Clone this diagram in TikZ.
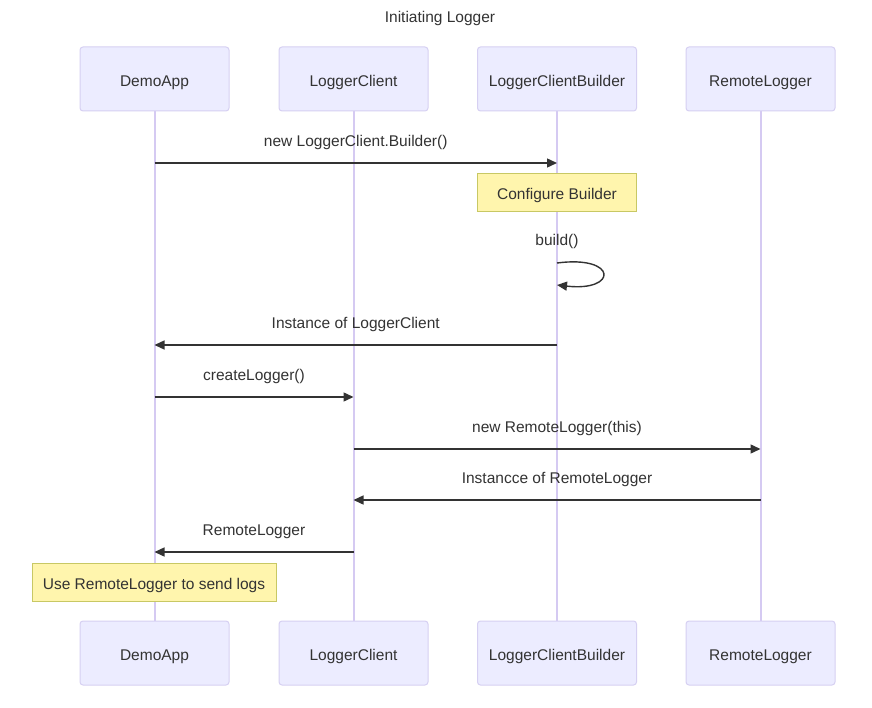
\documentclass[tikz,border=0pt]{standalone}
\usepackage{fontspec}
\setmainfont{Liberation Sans}
\usetikzlibrary{arrows.meta}
\definecolor{actorfill}{HTML}{ECECFF}
\definecolor{actorline}{HTML}{D6D0F2}
\definecolor{lifeline}{HTML}{D5CAF2}
\definecolor{notefill}{HTML}{FFF5AD}
\definecolor{noteline}{HTML}{C8C864}
\definecolor{ink}{HTML}{333333}
\tikzset{
  basefont/.style={font=\fontsize{15.5}{18}\selectfont},
  actor/.style={draw=actorline, fill=actorfill, line width=1pt, rounded corners=3pt,
    minimum height=64pt, text=ink, basefont, text height=15pt, text depth=0pt},
  notebox/.style={draw=noteline, fill=notefill, line width=1pt, minimum height=38pt,
    text=ink, basefont, text height=14pt, text depth=0pt},
  lifelinestyle/.style={draw=lifeline, line width=2pt},
  msg/.style={draw=ink, line width=1.4pt, -{Triangle[length=10pt,width=9pt]}},
  msglabel/.style={text=ink, basefont},
}
\begin{document}
\begin{tikzpicture}[x=1pt,y=-1pt]
\useasboundingbox (0,0) rectangle (872,708);
\fill[white] (0,0) rectangle (872,708);

\node[msglabel] (title) at (440,18) {Initiating Logger};

% lifelines
\foreach \n/\x in {da/154.5,lc/353.5,lb/557,rl/760.5}{
  \coordinate (\n) at (\x,111);
  \coordinate (\n-end) at (\x,621);
  \draw[lifelinestyle] (\n) -- (\n-end);
}

% participants, top and bottom
\node[actor, minimum width=149pt] (daT) at (154.5,79) {DemoApp};
\node[actor, minimum width=149pt] (lcT) at (353.5,79) {LoggerClient};
\node[actor, minimum width=159pt] (lbT) at (557,79) {LoggerClientBuilder};
\node[actor, minimum width=149pt] (rlT) at (760.5,79) {RemoteLogger};
\node[actor, minimum width=149pt] (daB) at (154.5,653) {DemoApp};
\node[actor, minimum width=149pt] (lcB) at (353.5,653) {LoggerClient};
\node[actor, minimum width=159pt] (lbB) at (557,653) {LoggerClientBuilder};
\node[actor, minimum width=149pt] (rlB) at (760.5,653) {RemoteLogger};

% message rows
\foreach \r/\y in {m1/163,m2/263,m2e/285,m3/345,m4/397,m5/449,m6/500,m7/552}{
  \coordinate (\r) at (0,\y);
}

\draw[msg] (da |- m1) -- node[msglabel, above=9pt] (l1) {new LoggerClient.Builder()} (lb |- m1);

\node[notebox, minimum width=159pt] (n1) at (557,193) {Configure Builder};

\node[msglabel] (l2) at (557,241) {build()};
\draw[msg] (lb |- m2) .. controls (618,255) and (618,292) .. (lb |- m2e);

\draw[msg] (lb |- m3) -- node[msglabel, above=9pt] (l3) {Instance of LoggerClient} (da |- m3);
\draw[msg] (da |- m4) -- node[msglabel, above=9pt] (l4) {createLogger()} (lc |- m4);
\draw[msg] (lc |- m5) -- node[msglabel, above=9pt] (l5) {new RemoteLogger(this)} (rl |- m5);
\draw[msg] (rl |- m6) -- node[msglabel, above=9pt] (l6) {Instancce of RemoteLogger} (lc |- m6);
\draw[msg] (lc |- m7) -- node[msglabel, above=9pt] (l7) {RemoteLogger} (da |- m7);

\node[notebox, minimum width=244pt] (n2) at (154,582) {Use RemoteLogger to send logs};
\end{tikzpicture}
\end{document}
